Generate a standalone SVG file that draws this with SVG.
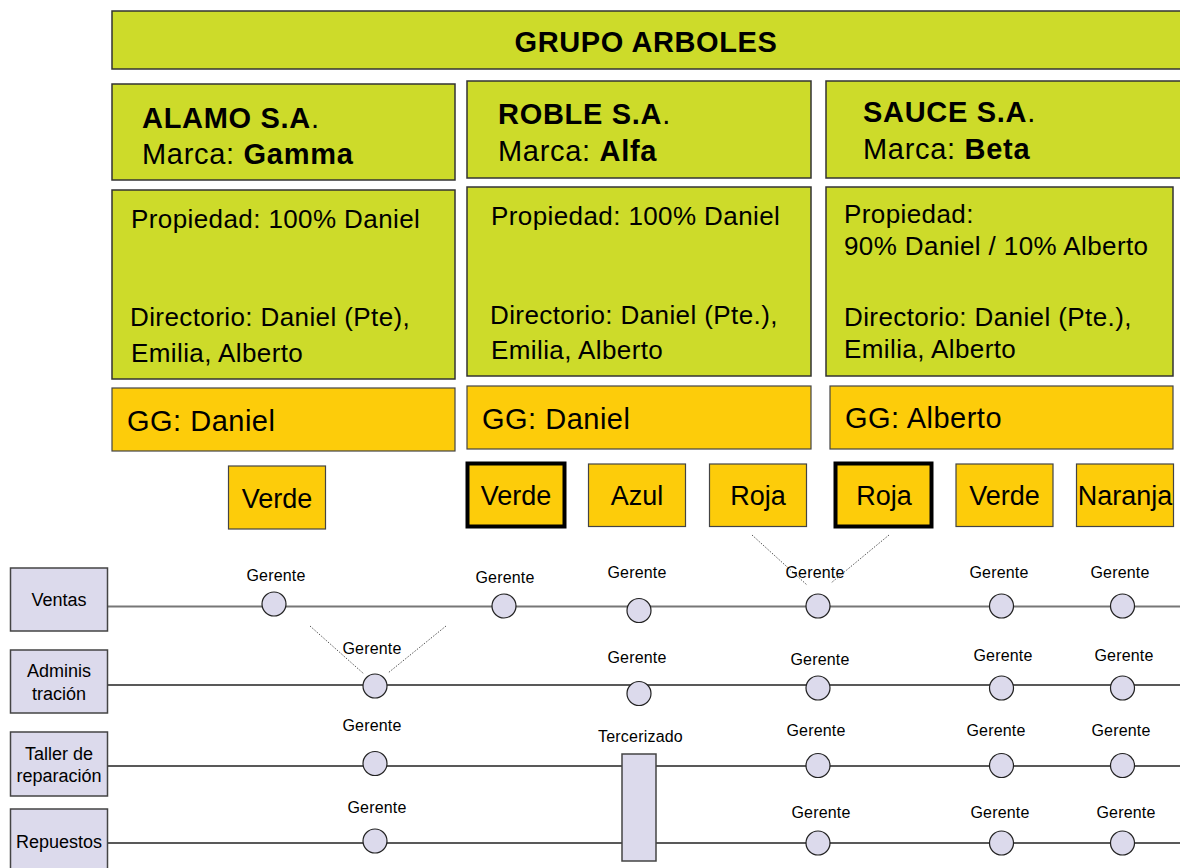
<svg xmlns="http://www.w3.org/2000/svg" width="1180" height="868" viewBox="0 0 1180 868">
  <style>
    text { font-family: "Liberation Sans", Arial, sans-serif; fill: #000; }
    .green { fill: #cddb2a; stroke: #333; stroke-width: 1.5; }
    .orange { fill: #fdcc0a; stroke: #444; stroke-width: 1.2; }
    .orange-bold { fill: #fdcc0a; stroke: #000; stroke-width: 4; }
    .dept { fill: #dcdaec; stroke: #444; stroke-width: 1.5; }
    .dot { fill: #dcdaec; stroke: #222; stroke-width: 1.2; }
    .head { font-size: 29px; letter-spacing: 0.7px; }
    .title { font-size: 29px; letter-spacing: 0.6px; }
    .b { font-weight: bold; }
    .prop { font-size: 26px; letter-spacing: 0.4px; }
    .gg { font-size: 29px; letter-spacing: 0.5px; }
    .brand { font-size: 27px; text-anchor: middle; }
    .dtxt { font-size: 18px; text-anchor: middle; }
    .lbl { font-size: 16px; text-anchor: middle; letter-spacing: 0.2px; }
    .lane { stroke: #222; stroke-width: 1.6; fill: none; }
    .lane-light { stroke: #777; stroke-width: 2; fill: none; }
    .dotted { stroke: #555; stroke-width: 1; stroke-dasharray: 1.5 1.5; fill: none; }
  </style>

  <!-- group banner -->
  <g id="grupo">
    <rect class="green" x="112" y="11" width="1075" height="58"/>
    <text x="646" y="52" class="title b" text-anchor="middle">GRUPO ARBOLES</text>
  </g>

  <!-- ALAMO column -->
  <g id="alamo">
    <rect class="green" x="112" y="84" width="343" height="96"/>
    <text x="142" y="128" class="head"><tspan class="b">ALAMO S.A</tspan>.</text>
    <text x="142" y="164" class="head">Marca: <tspan class="b">Gamma</tspan></text>
  </g>
  <g id="alamo-props">
    <rect class="green" x="112" y="190" width="343" height="189"/>
    <text x="131" y="228" class="prop">Propiedad: 100% Daniel</text>
    <text x="130" y="326" class="prop">Directorio: Daniel (Pte),</text>
    <text x="131" y="362" class="prop">Emilia, Alberto</text>
  </g>
  <g id="alamo-gg">
    <rect class="orange" x="112" y="388" width="343" height="63"/>
    <text x="127" y="431" class="gg">GG: Daniel</text>
  </g>

  <!-- ROBLE column -->
  <g id="roble">
    <rect class="green" x="467" y="81" width="344" height="97"/>
    <text x="498" y="124" class="head"><tspan class="b">ROBLE S.A</tspan>.</text>
    <text x="498" y="161" class="head">Marca: <tspan class="b">Alfa</tspan></text>
  </g>
  <g id="roble-props">
    <rect class="green" x="467" y="187" width="344" height="189"/>
    <text x="491" y="225" class="prop">Propiedad: 100% Daniel</text>
    <text x="490" y="324" class="prop">Directorio: Daniel (Pte.),</text>
    <text x="491" y="359" class="prop">Emilia, Alberto</text>
  </g>
  <g id="roble-gg">
    <rect class="orange" x="467" y="386" width="344" height="63"/>
    <text x="482" y="429" class="gg">GG: Daniel</text>
  </g>

  <!-- SAUCE column -->
  <g id="sauce">
    <rect class="green" x="826" y="81" width="360" height="97"/>
    <text x="863" y="122" class="head"><tspan class="b">SAUCE S.A</tspan>.</text>
    <text x="863" y="159" class="head">Marca: <tspan class="b">Beta</tspan></text>
  </g>
  <g id="sauce-props">
    <rect class="green" x="826" y="187" width="347" height="189"/>
    <text x="844" y="223" class="prop">Propiedad:</text>
    <text x="844" y="255" class="prop">90% Daniel / 10% Alberto</text>
    <text x="844" y="326" class="prop">Directorio: Daniel (Pte.),</text>
    <text x="844" y="358" class="prop">Emilia, Alberto</text>
  </g>
  <g id="sauce-gg">
    <rect class="orange" x="830" y="386" width="343" height="63"/>
    <text x="845" y="428" class="gg">GG: Alberto</text>
  </g>

  <!-- brands -->
  <g id="brand-verde-1">
    <rect class="orange" x="228.5" y="466" width="97" height="63"/>
    <text x="277" y="508" class="brand">Verde</text>
  </g>
  <g id="brand-verde-2">
    <rect class="orange-bold" x="467.5" y="463.5" width="97" height="63"/>
    <text x="516" y="505" class="brand">Verde</text>
  </g>
  <g id="brand-azul">
    <rect class="orange" x="588.5" y="464" width="97" height="62.5"/>
    <text x="637" y="505" class="brand">Azul</text>
  </g>
  <g id="brand-roja-1">
    <rect class="orange" x="709.5" y="464" width="97" height="62.5"/>
    <text x="758" y="505" class="brand">Roja</text>
  </g>
  <g id="brand-roja-2">
    <rect class="orange-bold" x="835.5" y="463.5" width="96" height="63"/>
    <text x="884" y="505" class="brand">Roja</text>
  </g>
  <g id="brand-verde-3">
    <rect class="orange" x="956" y="464" width="97" height="62.5"/>
    <text x="1004.5" y="505" class="brand">Verde</text>
  </g>
  <g id="brand-naranja">
    <rect class="orange" x="1076.5" y="464" width="97" height="62.5"/>
    <text x="1125" y="505" class="brand">Naranja</text>
  </g>

  <!-- connectors: department lanes and dotted links -->
  <g id="connectors">
    <line class="lane-light" x1="108" y1="606.5" x2="1180" y2="606.5"/>
    <line class="lane" x1="108" y1="685" x2="1180" y2="685"/>
    <line class="lane" x1="108" y1="766" x2="1180" y2="766"/>
    <line class="lane" x1="108" y1="843" x2="1180" y2="843"/>
    <line class="dotted" x1="310" y1="626" x2="364" y2="674"/>
    <line class="dotted" x1="446" y1="626" x2="388" y2="673"/>
    <line class="dotted" x1="752" y1="535" x2="807" y2="585"/>
    <line class="dotted" x1="889" y1="535" x2="831" y2="583"/>
  </g>

  <!-- departments -->
  <g id="dept-ventas">
    <rect class="dept" x="10.5" y="568" width="97" height="63"/>
    <text x="59" y="606" class="dtxt">Ventas</text>
  </g>
  <g id="dept-admin">
    <rect class="dept" x="10.5" y="650" width="97" height="63"/>
    <text x="59" y="677" class="dtxt">Adminis</text>
    <text x="59" y="700" class="dtxt">tración</text>
  </g>
  <g id="dept-taller">
    <rect class="dept" x="10.5" y="732" width="97" height="64"/>
    <text x="59" y="760" class="dtxt">Taller de</text>
    <text x="59" y="782" class="dtxt">reparación</text>
  </g>
  <g id="dept-repuestos">
    <rect class="dept" x="10.5" y="809" width="97" height="62"/>
    <text x="59" y="848" class="dtxt">Repuestos</text>
  </g>

  <!-- Ventas managers -->
  <g id="ventas-gerentes">
    <circle class="dot" cx="274" cy="604" r="12"/>
    <text x="276" y="581" class="lbl">Gerente</text>
    <circle class="dot" cx="504" cy="606" r="12"/>
    <text x="505" y="583" class="lbl">Gerente</text>
    <circle class="dot" cx="639" cy="610.5" r="12"/>
    <text x="637" y="578" class="lbl">Gerente</text>
    <circle class="dot" cx="818" cy="606" r="12"/>
    <text x="815" y="578" class="lbl">Gerente</text>
    <circle class="dot" cx="1001.5" cy="606" r="12"/>
    <text x="999" y="578" class="lbl">Gerente</text>
    <circle class="dot" cx="1122.5" cy="606" r="12"/>
    <text x="1120" y="578" class="lbl">Gerente</text>
  </g>

  <!-- Administración managers -->
  <g id="admin-gerentes">
    <circle class="dot" cx="375" cy="686" r="12"/>
    <text x="372" y="654" class="lbl">Gerente</text>
    <circle class="dot" cx="639" cy="693.5" r="12"/>
    <text x="637" y="663" class="lbl">Gerente</text>
    <circle class="dot" cx="818" cy="688" r="12"/>
    <text x="820" y="665" class="lbl">Gerente</text>
    <circle class="dot" cx="1001.5" cy="688" r="12"/>
    <text x="1003" y="661" class="lbl">Gerente</text>
    <circle class="dot" cx="1122.5" cy="688" r="12"/>
    <text x="1124" y="661" class="lbl">Gerente</text>
  </g>

  <!-- Taller managers -->
  <g id="taller-gerentes">
    <circle class="dot" cx="375" cy="763.5" r="12"/>
    <text x="372" y="731" class="lbl">Gerente</text>
    <circle class="dot" cx="818" cy="765.5" r="12"/>
    <text x="816" y="736" class="lbl">Gerente</text>
    <circle class="dot" cx="1001.5" cy="765.5" r="12"/>
    <text x="996" y="736" class="lbl">Gerente</text>
    <circle class="dot" cx="1122.5" cy="765.5" r="12"/>
    <text x="1121" y="736" class="lbl">Gerente</text>
  </g>

  <!-- outsourced workshop -->
  <g id="tercerizado">
    <rect class="dept" x="622" y="754" width="34" height="107"/>
    <text x="640.5" y="742" class="lbl" letter-spacing="-0.3">Tercerizado</text>
  </g>

  <!-- Repuestos managers -->
  <g id="repuestos-gerentes">
    <circle class="dot" cx="375" cy="841" r="12"/>
    <text x="377" y="813" class="lbl">Gerente</text>
    <circle class="dot" cx="818" cy="843" r="12"/>
    <text x="821" y="818" class="lbl">Gerente</text>
    <circle class="dot" cx="1001.5" cy="843" r="12"/>
    <text x="1000" y="818" class="lbl">Gerente</text>
    <circle class="dot" cx="1122.5" cy="843" r="12"/>
    <text x="1126" y="818" class="lbl">Gerente</text>
  </g>
</svg>
